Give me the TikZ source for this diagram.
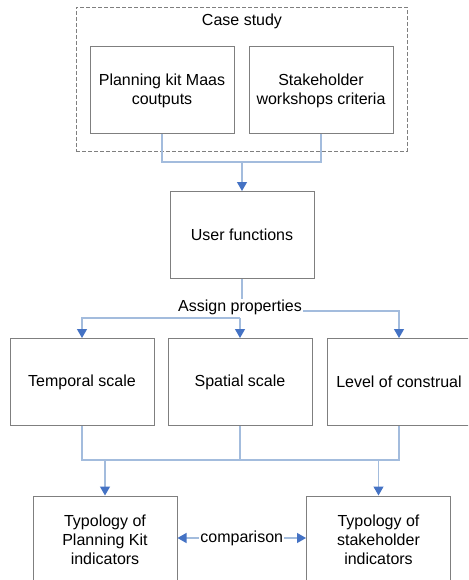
\documentclass[tikz,border=0pt]{standalone}
\usepackage{fontspec}
\setmainfont{Liberation Sans}
\usetikzlibrary{arrows.meta}
\definecolor{boxgray}{HTML}{7F7F7F}
\definecolor{linkblue}{HTML}{A3BCDD}
\definecolor{tipblue}{HTML}{4472C4}
\begin{document}
\begin{tikzpicture}[x=1pt,y=-1pt,
  every node/.style={font=\fontsize{16}{19.2}\selectfont, align=center},
  box/.style={draw=boxgray, line width=1pt, rectangle, minimum width=144pt, minimum height=87pt, inner sep=0pt},
  conn/.style={draw=linkblue, line width=1.2pt},
  arr/.style={-{Triangle[width=10pt,length=9pt,color=tipblue]}},
  darr/.style={{Triangle[width=10pt,length=9pt,color=tipblue]}-{Triangle[width=10pt,length=9pt,color=tipblue]}},
  lab/.style={fill=white, inner sep=1pt}]
\useasboundingbox (0,0) rectangle (468,580);
\clip (0,0) rectangle (468,580);
% case study frame
\node[draw=boxgray, line width=0.8pt, dash pattern=on 4pt off 2pt, minimum width=331pt, minimum height=144pt, inner sep=0pt] (casebox) at (241.5,79) {};
\node (casetitle) at (242,21) {Case study};
\node[box] (kit) at (162,90.5) {Planning kit Maas\\coutputs};
\node[box] (work) at (321,90.5) {Stakeholder\\workshops criteria};
\node[box] (user) at (242,235) {User functions};
\node[box] (temporal) at (82,382) {Temporal scale};
\node[box] (spatial) at (240,382) {Spatial scale};
\node[box] (level) at (399,382) {Level of construal};
\node[box] (pk) at (105,539.5) {Typology of\\Planning Kit\\indicators};
\node[box] (sh) at (378.5,539.5) {Typology of\\stakeholder\\indicators};
% connectors
\coordinate (j1) at (242,162);
\draw[conn] (kit.south) |- (j1) -| (work.south);
\draw[conn,arr] (j1) -- (user.north);
\coordinate (j2) at (240,318);
\draw[conn] (user.south) -- (242,306);
\draw[conn,arr] (j2) -- (spatial.north);
\draw[conn,arr] (j2) -| (temporal.north);
\draw[conn,arr] (242,311) -| (level.north);
\node[lab] (ap) at (240,307) {Assign properties};
\coordinate (j3) at (240,460);
\draw[conn] (temporal.south) |- (j3) -| (level.south);
\draw[conn] (spatial.south) -- (j3);
\draw[conn,arr] (pk.north |- j3) -- (pk.north);
\draw[conn,arr] (sh.north |- j3) -- (sh.north);
\draw[conn,darr] ([yshift=1.5pt]pk.east) -- node[lab] (cmp) {comparison} ([yshift=1.5pt]sh.west);
\end{tikzpicture}
\end{document}
